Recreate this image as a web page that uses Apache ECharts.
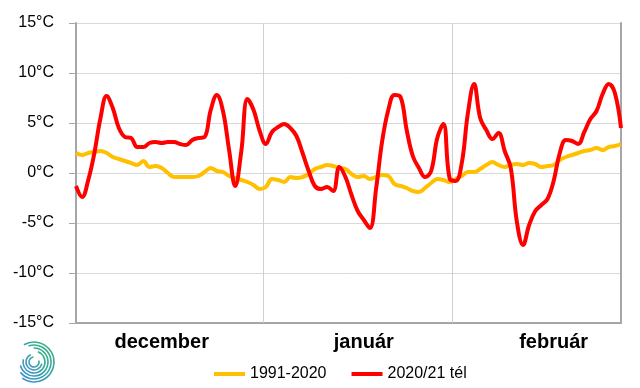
<!DOCTYPE html>
<html>
<head>
<meta charset="utf-8">
<script src="https://cdn.jsdelivr.net/npm/echarts@6/dist/echarts.min.js"></script>
<style>html,body{margin:0;padding:0;background:#fff}#c{width:640px;height:388px}</style>
</head>
<body>
<div id="c"></div>
<script>
// Month names and lengths (Dec 2020 - Feb 2021)
const monthNames = ['december', 'január', 'február'];
const monthLengths = [31, 31, 28];
const monthLabelDay = [14, 47, 78];
const seriesNames = ['1991-2020', '2020/21 tél'];
const yTicks = [-15, -10, -5, 0, 5, 10, 15];

// 1991-2020 daily mean temperature (°C)
const normal = [
  2.0, 1.8, 2.0, 2.1, 2.2, 2.0, 1.6, 1.4, 1.2, 1.0,
  0.8, 1.2, 0.6, 0.7, 0.5, 0.0, -0.4, -0.4, -0.4, -0.4,
  -0.3, 0.1, 0.5, 0.2, 0.1, -0.3, -0.5, -0.7, -0.9, -1.2,
  -1.6, -1.4, -0.6, -0.7, -0.9, -0.4, -0.5, -0.4, -0.1, 0.4,
  0.6, 0.8, 0.7, 0.5, 0.4, -0.1, -0.4, -0.3, -0.6, -0.4,
  -0.2, -0.3, -1.1, -1.3, -1.5, -1.8, -1.9, -1.5, -1.0, -0.6,
  -0.7, -0.9, -0.6, -0.3, 0.1, 0.1, 0.4, 0.8, 1.1, 0.8,
  0.6, 0.8, 0.9, 0.8, 1.0, 0.9, 0.6, 0.7, 0.8, 1.3,
  1.6, 1.8, 2.0, 2.2, 2.3, 2.5, 2.3, 2.6, 2.7, 2.9
];

// 2020/21 winter daily mean temperature (°C)
const winter = [
  -1.3, -2.4, -0.7, 2.0, 5.5, 7.7, 6.5, 4.5, 3.6, 3.5,
  2.6, 2.6, 3.0, 3.1, 3.0, 3.1, 3.1, 2.9, 2.8, 3.3,
  3.5, 3.6, 6.3, 7.8, 6.2, 2.3, -1.3, 2.2, 7.4, 6.3,
  4.2, 2.9, 4.1, 4.6, 4.9, 4.5, 3.7, 2.0, 0.2, -1.3,
  -1.6, -1.4, -1.8, 0.6, -0.4, -2.2, -3.8, -4.7, -5.5, -1.6,
  3.2, 6.3, 7.8, 7.6, 4.3, 1.7, 0.5, -0.4, 0.2, 3.5,
  4.9, -0.5, -0.8, 1.0, 6.0, 8.9, 5.5, 4.3, 3.4, 4.0,
  2.2, 0.5, -4.9, -7.2, -5.2, -3.8, -3.2, -2.6, -0.8, 2.0,
  3.3, 3.2, 2.9, 4.1, 5.4, 6.2, 7.9, 8.9, 8.0, 4.5
];

const dayCats = [];
monthLengths.forEach((len, m) => {
  for (let d = 1; d <= len; d++) dayCats.push(monthNames[m] + ' ' + d);
});
const separators = [];
let acc = 0;
for (let m = 0; m < monthLengths.length - 1; m++) { acc += monthLengths[m]; separators.push(acc - 0.5); }

const chart = echarts.init(document.getElementById('c'), null, {renderer: 'canvas'});
const FONT = 'Liberation Sans';

// decorative logo arcs
const logoArcs = [];
const logoR = [5, 8, 11, 14, 17, 20];
const logoStart = [-0.3, 0.2, -1.2, -1.6, -1.9, -2.1];
const logoEnd = [4.6, 4.3, 3.4, 2.9, 2.5, 2.2];
for (let i = 0; i < logoR.length; i++) {
  logoArcs.push({
    type: 'arc',
    shape: {cx: 34, cy: 362, r: logoR[i], startAngle: logoStart[i], endAngle: logoEnd[i]},
    style: {
      fill: null, lineWidth: 1.6,
      stroke: new echarts.graphic.LinearGradient(0, 1, 1, 0, [
        {offset: 0, color: '#3d8fd6'}, {offset: 1, color: '#37b679'}
      ], false)
    }
  });
}

chart.setOption({
  animation: false,
  textStyle: {fontFamily: FONT},
  grid: {left: 76, right: 19, top: 23, bottom: 65, containLabel: false},
  legend: {
    data: seriesNames,
    left: 209, top: 361,
    icon: 'rect', itemWidth: 31, itemHeight: 4, itemGap: 25,
    textStyle: {fontFamily: FONT, fontSize: 16, color: '#000'}
  },
  xAxis: [
    {type: 'value', min: 0, max: dayCats.length - 1, show: false, axisLine: {onZero: false}},
    {
      type: 'category', data: dayCats, boundaryGap: false, position: 'bottom',
      axisLine: {show: true, onZero: false, lineStyle: {color: '#a6a6a6', width: 2}},
      axisTick: {show: false},
      splitLine: {show: false},
      axisLabel: {
        interval: (idx) => monthLabelDay.indexOf(idx) >= 0,
        formatter: (v, idx) => monthNames[monthLabelDay.indexOf(idx)] || '',
        fontFamily: FONT, fontSize: 20, fontWeight: 'bold', color: '#000', margin: 9
      }
    }
  ],
  yAxis: [
    {
      type: 'value', min: yTicks[0], max: yTicks[yTicks.length - 1], interval: 5,
      axisLine: {show: true, onZero: false, lineStyle: {color: '#a6a6a6', width: 2}},
      axisTick: {show: true, length: 7, lineStyle: {color: '#a6a6a6', width: 1}},
      axisLabel: {formatter: '{value}°C', fontFamily: FONT, fontSize: 16, color: '#000', margin: 22},
      splitLine: {show: true, lineStyle: {color: '#d9d9d9', width: 1}}
    },
    {
      type: 'value', min: yTicks[0], max: yTicks[yTicks.length - 1], interval: 5, position: 'right',
      axisLine: {show: true, onZero: false, lineStyle: {color: '#a6a6a6', width: 2}},
      axisTick: {show: false}, axisLabel: {show: false}, splitLine: {show: false}
    }
  ],
  series: [
    {
      name: seriesNames[0], type: 'line', xAxisIndex: 0, yAxisIndex: 0,
      data: normal.map((v, i) => [i, v]),
      smooth: 0.4, showSymbol: false, symbol: 'none',
      lineStyle: {color: '#ffc000', width: 4}, itemStyle: {color: '#ffc000'},
      z: 3,
      markLine: {
        silent: true, symbol: 'none', z: 1,
        label: {show: false},
        lineStyle: {color: '#d0d0d0', width: 1, type: 'solid'},
        data: separators.map(s => ({xAxis: s}))
      }
    },
    {
      name: seriesNames[1], type: 'line', xAxisIndex: 0, yAxisIndex: 0,
      data: winter.map((v, i) => [i, v]),
      smooth: 0.4, showSymbol: false, symbol: 'none',
      lineStyle: {color: '#ff0000', width: 4}, itemStyle: {color: '#ff0000'},
      z: 4
    }
  ],
  graphic: [{type: 'group', children: logoArcs}]
});
</script>
</body>
</html>
